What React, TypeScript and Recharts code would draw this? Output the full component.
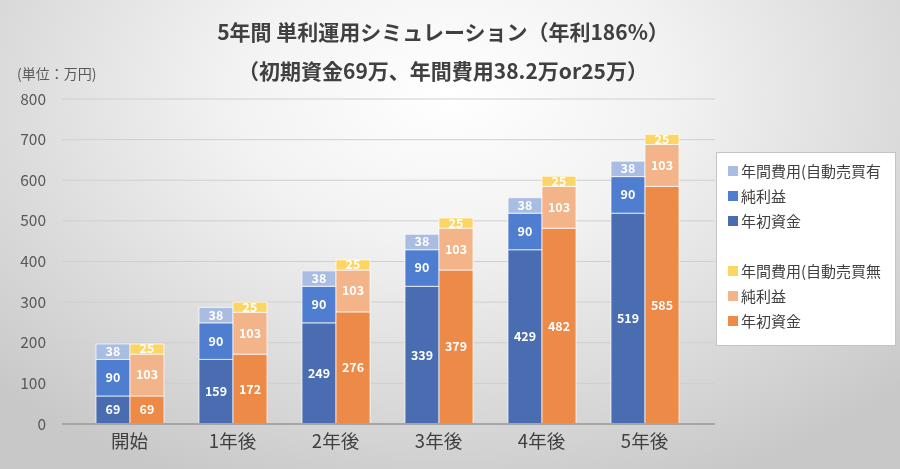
import { BarChart, Bar, XAxis, YAxis, CartesianGrid, LabelList } from 'recharts';

const categories = ['開始', '1年後', '2年後', '3年後', '4年後', '5年後'];
// 自動売買有 (blue stack)
const blueCapital = [69, 159, 249, 339, 429, 519];
const blueProfit = [90, 90, 90, 90, 90, 90];
const blueCost = [38, 38, 38, 38, 38, 38];
// 自動売買無 (orange stack)
const orangeCapital = [69, 172, 276, 379, 482, 585];
const orangeProfit = [103, 103, 103, 103, 103, 103];
const orangeCost = [25, 25, 25, 25, 25, 25];
const yTicks = [0, 100, 200, 300, 400, 500, 600, 700, 800];

const FONT = '"Noto Sans CJK JP", "Noto Sans", sans-serif';

const data = categories.map((name, i) => ({
  name,
  bCap: blueCapital[i],
  bPro: blueProfit[i],
  bCost: blueCost[i],
  oCap: orangeCapital[i],
  oPro: orangeProfit[i],
  oCost: orangeCost[i],
}));

const series = [
  { key: 'bCap', stack: 'blue', name: '年初資金', color: '#4a6db2' },
  { key: 'bPro', stack: 'blue', name: '純利益', color: '#4f7ed0' },
  { key: 'bCost', stack: 'blue', name: '年間費用(自動売買有', color: '#a9bde3' },
  { key: 'oCap', stack: 'orange', name: '年初資金', color: '#ee8a48' },
  { key: 'oPro', stack: 'orange', name: '純利益', color: '#f3b48a' },
  { key: 'oCost', stack: 'orange', name: '年間費用(自動売買無', color: '#fcd664' },
];

// legend lists each stack top-down, with a blank row between
const legendRows = [
  ...series.filter((s) => s.stack === 'blue').reverse(),
  null,
  ...series.filter((s) => s.stack === 'orange').reverse(),
];

function Legend() {
  return (
    <div
      style={{
        position: 'absolute',
        left: 716,
        top: 152,
        width: 180,
        height: 194,
        background: '#fff',
        border: '1px solid #c4c4c4',
        boxSizing: 'border-box',
        paddingTop: 5,
        overflow: 'hidden',
        fontFamily: FONT,
      }}
    >
      {legendRows.map((s, i) => (
        <div key={i} style={{ height: 25, display: 'flex', alignItems: 'center', whiteSpace: 'nowrap' }}>
          {s && (
            <>
              <span style={{ width: 10, height: 10, background: s.color, marginLeft: 11, marginRight: 3, flexShrink: 0 }} />
              <span style={{ fontSize: 15, color: '#404040' }}>{s.name}</span>
            </>
          )}
        </div>
      ))}
    </div>
  );
}

export default function App() {
  return (
    <div
      style={{
        position: 'fixed',
        left: 0,
        top: 0,
        width: 900,
        height: 469,
        background: 'radial-gradient(ellipse 70% 90% at 50% 20%, #ffffff 0%, #f2f2f2 35%, #d2d2d2 85%, #c8c8c8 100%)',
        fontFamily: FONT,
        overflow: 'hidden',
      }}
    >
      <div
        style={{
          position: 'absolute',
          left: 0,
          width: 886,
          top: 12,
          textAlign: 'center',
          fontSize: 21,
          fontWeight: 700,
          color: '#404040',
          lineHeight: '39px',
        }}
      >
        <div>5年間 単利運用シミュレーション（年利186%）</div>
        <div>（初期資金69万、年間費用38.2万or25万）</div>
      </div>
      <div style={{ position: 'absolute', left: 17, top: 63, fontSize: 14, color: '#595959' }}>(単位：万円)</div>
      <div style={{ position: 'absolute', left: 0, top: 0 }}>
        <BarChart
          width={900}
          height={469}
          data={data}
          margin={{ top: 99, right: 185, bottom: 13, left: 0 }}
          barSize={34}
          barGap={0}
        >
          <CartesianGrid vertical={false} stroke="#cfcfcf" />
          <XAxis
            dataKey="name"
            height={32}
            padding={{ left: 16, right: 19 }}
            tickLine={false}
            tickMargin={5}
            axisLine={{ stroke: '#a6a6a6', strokeWidth: 2 }}
            tick={{ fontSize: 18.5, fill: '#404040', fontFamily: FONT }}
          />
          <YAxis
            width={62}
            domain={[0, 800]}
            ticks={yTicks}
            tickLine={false}
            axisLine={false}
            tickSize={6}
            tickMargin={10}
            tick={{ fontSize: 15.5, fill: '#595959', fontFamily: FONT }}
          />
          {series.map((s) => (
            <Bar
              key={s.key}
              dataKey={s.key}
              stackId={s.stack}
              fill={s.color}
              stroke="#ffffff"
              strokeOpacity={0.7}
              strokeWidth={1}
              isAnimationActive={false}
            >
              <LabelList
                dataKey={s.key}
                position="center"
                fill="#ffffff"
                fontSize={12.5}
                fontWeight={700}
                fontFamily={FONT}
              />
            </Bar>
          ))}
        </BarChart>
      </div>
      <Legend />
    </div>
  );
}
